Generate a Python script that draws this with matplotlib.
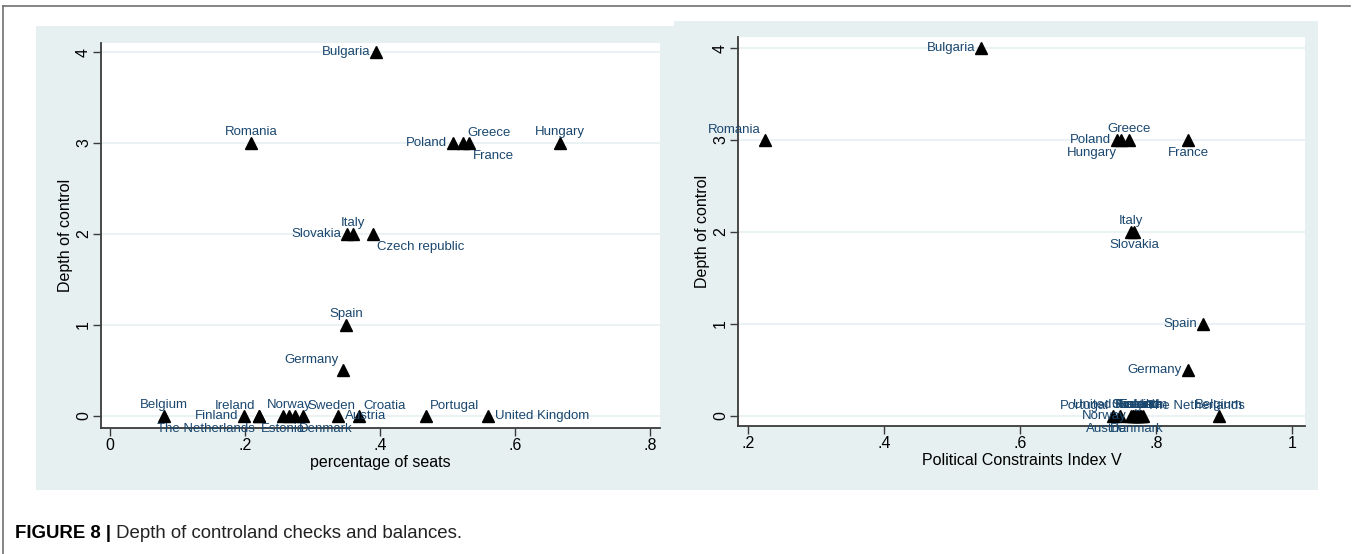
import matplotlib.pyplot as plt
from matplotlib.patches import Rectangle
from matplotlib.lines import Line2D
from matplotlib.text import Annotation

plt.rcParams['font.family'] = ['Liberation Sans', 'DejaVu Sans']

# left panel: percentage of seats vs depth of control
seat_countries = ['Bulgaria', 'Romania', 'Poland', 'Greece', 'France', 'Hungary',
                  'Slovakia', 'Italy', 'Czech republic', 'Spain', 'Germany',
                  'Belgium', 'Finland', 'Ireland', 'The Netherlands', 'Estonia',
                  'Norway', 'Denmark', 'Sweden', 'Austria', 'Croatia', 'Portugal',
                  'United Kingdom']
seat_share = [0.394, 0.209, 0.508, 0.523, 0.532, 0.667,
              0.351, 0.360, 0.390, 0.350, 0.345,
              0.080, 0.199, 0.221, 0.221, 0.256,
              0.265, 0.274, 0.286, 0.338, 0.369, 0.468,
              0.560]
seat_depth = [4, 3, 3, 3, 3, 3,
              2, 2, 2, 1, 0.5,
              0, 0, 0, 0, 0,
              0, 0, 0, 0, 0, 0,
              0]

# right panel: political constraints index V vs depth of control
pol_countries = ['Bulgaria', 'Romania', 'Poland', 'Hungary', 'Greece', 'France',
                 'Italy', 'Slovakia', 'Spain', 'Germany',
                 'Portugal', 'United Kingdom', 'Austria', 'Norway', 'Croatia',
                 'Sweden', 'Denmark', 'Finland', 'Ireland', 'Estonia',
                 'The Netherlands', 'Belgium']
polcon_v = [0.543, 0.225, 0.743, 0.749, 0.760, 0.847,
            0.763, 0.768, 0.869, 0.847,
            0.737, 0.747, 0.763, 0.766, 0.766,
            0.769, 0.772, 0.773, 0.776, 0.778,
            0.781, 0.893]
pol_depth = [4, 3, 3, 3, 3, 3,
             2, 2, 1, 0.5,
             0, 0, 0, 0, 0,
             0, 0, 0, 0, 0,
             0, 0]

depth_ticks = [0, 1, 2, 3, 4]
seat_ticks = [0, 0.2, 0.4, 0.6, 0.8]
seat_tick_labels = ['0', '.2', '.4', '.6', '.8']
pol_ticks = [0.2, 0.4, 0.6, 0.8, 1.0]
pol_tick_labels = ['.2', '.4', '.6', '.8', '1']

# marker label clock positions (stata style)
seat_lab_pos = {'Bulgaria': 9, 'Romania': 12, 'Poland': 9, 'Greece': 1,
                'France': 5, 'Hungary': 12, 'Slovakia': 9, 'Italy': 12,
                'Czech republic': 5, 'Spain': 12, 'Germany': 11, 'Belgium': 12,
                'Finland': 9, 'Ireland': 11, 'The Netherlands': 7, 'Estonia': 6,
                'Norway': 12, 'Denmark': 5, 'Sweden': 1, 'Austria': 3,
                'Croatia': 1, 'Portugal': 1, 'United Kingdom': 3}
pol_lab_pos = {'Bulgaria': 9, 'Romania': 11, 'Poland': 9, 'Hungary': 7,
               'Greece': 12, 'France': 6, 'Italy': 12, 'Slovakia': 6,
               'Spain': 9, 'Germany': 9, 'Portugal': 11, 'United Kingdom': 12,
               'Austria': 7, 'Norway': 9, 'Croatia': 12, 'Sweden': 12,
               'Denmark': 6, 'Finland': 12, 'Ireland': 12, 'Estonia': 12,
               'The Netherlands': 1, 'Belgium': 12}

# clock position -> (dx px, dy px, ha)
offsets = {12: (0, 11, 'center'), 1: (4, 10, 'left'), 3: (7, 0, 'left'),
           5: (4, -13, 'left'), 6: (0, -13, 'center'), 7: (-4, -13, 'right'),
           9: (-6, 0, 'right'), 11: (-4, 10, 'right')}

W, H = 1352, 554
bg = '#e6f0f0'
grid_c = '#e8f1f2'
lab_c = '#1a476f'
axis_c = '#3a3a3a'

fig = plt.figure(figsize=(W / 100, H / 100), dpi=100)


def fbox(x0, y0, x1, y1):
    # pixel box (top-left origin) -> figure fraction rect
    return [x0 / W, 1 - y1 / H, (x1 - x0) / W, (y1 - y0) / H]


# graph regions
for x0, y0, x1, y1 in [(36, 26, 674, 490), (674, 21, 1318, 490)]:
    l, b, w, h = fbox(x0, y0, x1, y1)
    fig.add_artist(Rectangle((l, b), w, h, transform=fig.transFigure,
                             facecolor=bg, edgecolor='none', zorder=0))

# page frame
fig.add_artist(Line2D([3 / W, 1350 / W], [1 - 6 / H, 1 - 6 / H],
                      transform=fig.transFigure, color='#707070', lw=1.2))
fig.add_artist(Line2D([3 / W, 3 / W], [1 - 6 / H, 0],
                      transform=fig.transFigure, color='#707070', lw=1.2))


def panel(rect, xs, ys, names, lab_pos, xlim, ylim, ticks, tick_labels, xlabel):
    ax = fig.add_axes(fbox(*rect))
    ax.set_facecolor('white')
    ax.set_axisbelow(True)
    ax.yaxis.grid(True, color=grid_c, lw=1.3)
    ax.plot(xs, ys, '^', color='black', ms=8, ls='none', clip_on=False, zorder=3)
    for x, y, n in zip(xs, ys, names):
        dx, dy, ha = offsets[lab_pos[n]]
        ax.annotate(n, (x, y), xytext=(dx * 0.72, dy * 0.72),
                    textcoords='offset points', ha=ha, va='center',
                    fontsize=9.5, color=lab_c, zorder=4, annotation_clip=False)
    ax.set_xlim(xlim)
    ax.set_ylim(ylim)
    ax.set_xticks(ticks)
    ax.set_xticklabels(tick_labels)
    ax.set_yticks(depth_ticks)
    ax.set_yticklabels([str(t) for t in depth_ticks], rotation=90, va='center')
    for s in ['top', 'right']:
        ax.spines[s].set_visible(False)
    for s in ['left', 'bottom']:
        ax.spines[s].set_color(axis_c)
        ax.spines[s].set_linewidth(1.3)
    ax.tick_params(length=6, width=1, color=axis_c, labelsize=11.5,
                   labelcolor='black')
    ax.tick_params(axis='x', pad=1.5)
    ax.tick_params(axis='y', pad=1.2)
    ax.set_xlabel(xlabel, fontsize=11.5, labelpad=1)
    ax.set_ylabel('Depth of control', fontsize=11.5, labelpad=2.5)
    return ax


panel((101, 43, 660, 428), seat_share, seat_depth, seat_countries, seat_lab_pos,
      (-0.0133, 0.8148), (-0.132, 4.099), seat_ticks, seat_tick_labels,
      'percentage of seats')
panel((738, 37, 1305, 426), polcon_v, pol_depth, pol_countries, pol_lab_pos,
      (0.1853, 1.019), (-0.109, 4.12), pol_ticks, pol_tick_labels,
      'Political Constraints Index V')

# caption
cap_font = ['Liberation Sans Narrow', 'Liberation Sans', 'DejaVu Sans']
t = fig.text(15 / W, 1 - 533 / H, 'FIGURE 8 |', fontsize=13.4, weight='bold',
             va='center', family=cap_font)
fig.add_artist(Annotation(' Depth of controland checks and balances.',
                          xy=(1, 0), xycoords=t, va='bottom', ha='left',
                          fontsize=13.4, family=cap_font, color='#222222'))

plt.savefig('out.png', dpi=100)
